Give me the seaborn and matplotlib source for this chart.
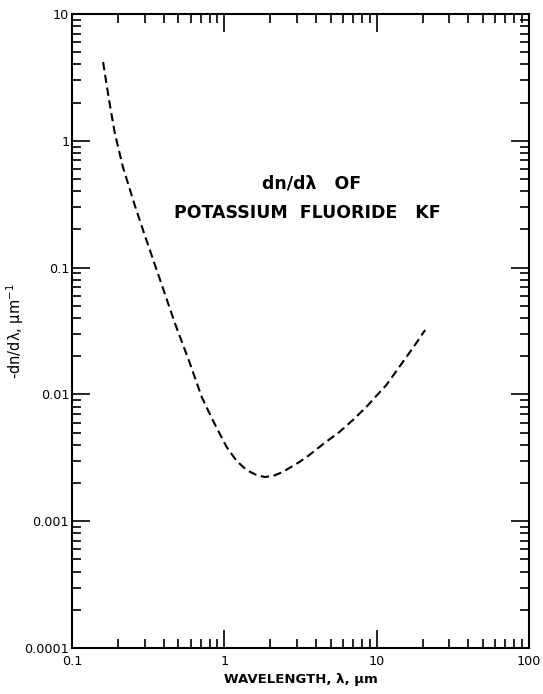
import numpy as np
import pandas as pd
import matplotlib
matplotlib.use("Agg")
import matplotlib.pyplot as plt
import seaborn as sns
from matplotlib.ticker import LogLocator, NullFormatter, FixedLocator, FixedFormatter

wavelength = [0.160, 0.175, 0.191, 0.216, 0.2585, 0.3006, 0.377, 0.473, 0.593, 0.71, 0.838, 1.035,
              1.20, 1.40, 1.62, 1.84, 2.10, 2.41, 3.11, 3.62, 4.5, 5.69, 7.0, 8.55, 11.6, 14.7, 18.2, 20.8]
dndl = [4.18, 2.1, 1.15, 0.62, 0.309, 0.1795, 0.0813, 0.0366, 0.0177, 0.00955, 0.00629, 0.00385,
        0.0030, 0.00253, 0.00232, 0.00223, 0.00228, 0.00244, 0.00293, 0.00333, 0.0041, 0.00505, 0.0063, 0.00796,
        0.0119, 0.0177, 0.0254, 0.0322]

x_ticks = [0.1, 1, 10, 100]
x_labels = ["0.1", "1", "10", "100"]
y_ticks = [0.0001, 0.001, 0.01, 0.1, 1, 10]
y_labels = ["0.0001", "0.001", "0.01", "0.1", "1", "10"]

df = pd.DataFrame({"wavelength": wavelength, "dndl": dndl})

sns.set_style("ticks")
plt.rcParams['font.family'] = ['DejaVu Sans']
plt.rcParams['text.color'] = 'black'
plt.rcParams['axes.labelcolor'] = 'black'
plt.rcParams['xtick.color'] = 'black'
plt.rcParams['ytick.color'] = 'black'

fig = plt.figure(figsize=(5.43, 6.94), dpi=100)
ax = fig.add_axes([72/543, 1-648/694, 457/543, 634/694])

sns.lineplot(data=df, x="wavelength", y="dndl", ax=ax, color="black",
             linewidth=1.5, linestyle=(0, (4, 2.2)), sort=False)

ax.set_xscale("log")
ax.set_yscale("log")
ax.set_xlim(0.1, 100)
ax.set_ylim(0.0001, 10)

ax.xaxis.set_major_locator(FixedLocator(x_ticks))
ax.xaxis.set_major_formatter(FixedFormatter(x_labels))
ax.yaxis.set_major_locator(FixedLocator(y_ticks))
ax.yaxis.set_major_formatter(FixedFormatter(y_labels))
ax.xaxis.set_minor_locator(LogLocator(base=10, subs=np.arange(2, 10), numticks=20))
ax.yaxis.set_minor_locator(LogLocator(base=10, subs=np.arange(2, 10), numticks=20))
ax.xaxis.set_minor_formatter(NullFormatter())
ax.yaxis.set_minor_formatter(NullFormatter())

ax.tick_params(which="both", direction="in", top=True, right=True, width=1.2)
ax.tick_params(which="major", length=13, labelsize=9.2, pad=2)
ax.tick_params(which="minor", length=6.5)
ax.tick_params(axis="x", which="major", pad=5)

for s in ax.spines.values():
    s.set_linewidth(1.5)
    s.set_color("black")

ax.set_xlabel("WAVELENGTH, λ, μm", fontsize=9.5, fontweight="bold")
ax.xaxis.set_label_coords(0.5, -0.040)
ax.set_ylabel("-dn/dλ, μm$^{-1}$", fontsize=10.5)
ax.yaxis.set_label_coords(-0.100, 0.5)

ax.text(0.525, 0.733, "dn/dλ   OF", transform=ax.transAxes, ha="center", va="center",
        fontsize=12.5, fontweight="bold")
ax.text(0.516, 0.686, "POTASSIUM  FLUORIDE   KF", transform=ax.transAxes, ha="center", va="center",
        fontsize=12.5, fontweight="bold")

fig.savefig("out.png", dpi=100)
